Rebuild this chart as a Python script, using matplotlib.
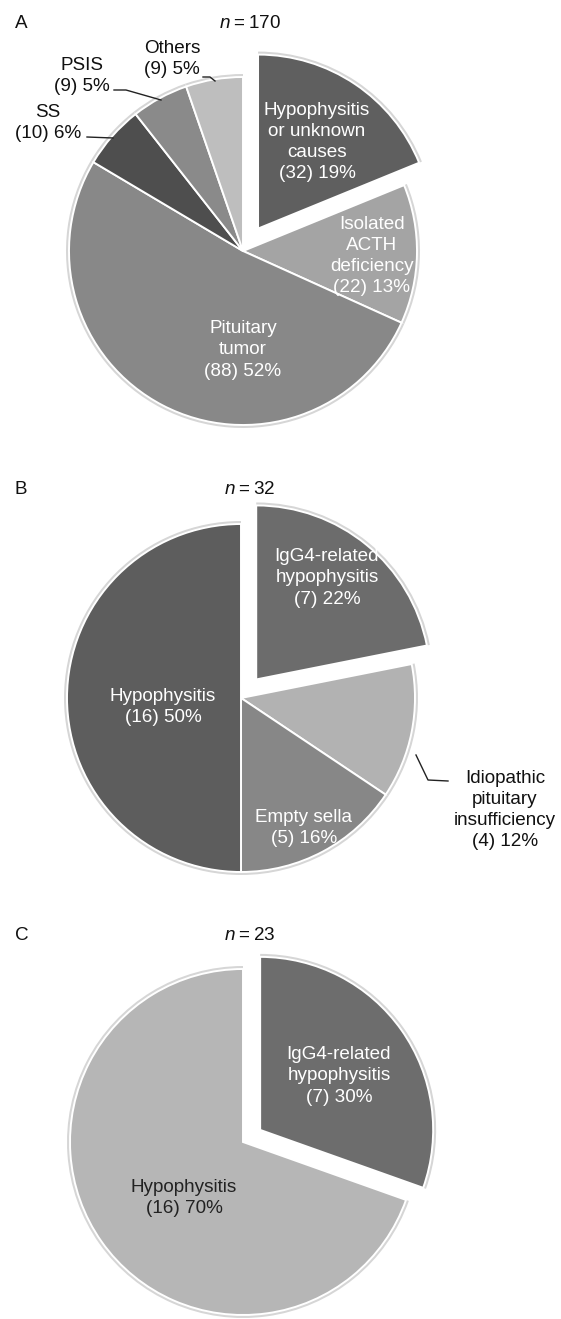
import matplotlib
matplotlib.use("Agg")
import matplotlib.pyplot as plt

plt.rcParams['font.family'] = ['Liberation Sans', 'DejaVu Sans']
plt.rcParams['mathtext.fontset'] = 'custom'
plt.rcParams['mathtext.rm'] = 'Liberation Sans'
plt.rcParams['mathtext.it'] = 'Liberation Sans:italic'

# ---------------- data ----------------
a_labels = ["Hypophysitis\nor unknown\ncauses", "Isolated\nACTH\ndeficiency",
            "Pituitary\ntumor", "SS", "PSIS", "Others"]
a_counts = [32, 22, 88, 10, 9, 9]
a_pcts = [19, 13, 52, 6, 5, 5]
a_n = 170

b_labels = ["IgG4-related\nhypophysitis", "Idiopathic\npituitary\ninsufficiency",
            "Empty sella", "Hypophysitis"]
b_counts = [7, 4, 5, 16]
b_pcts = [22, 12, 16, 50]
b_n = 32

c_labels = ["IgG4-related\nhypophysitis", "Hypophysitis"]
c_counts = [7, 16]
c_pcts = [30, 70]
c_n = 23

# ---------------- styling / layout ----------------
W, H = 561, 1319
a_colors = ["#5f5f5f", "#a4a4a4", "#888888", "#4e4e4e", "#8a8a8a", "#bebebe"]
b_colors = ["#6c6c6c", "#b2b2b2", "#878787", "#5d5d5d"]
c_colors = ["#6d6d6d", "#b6b6b6"]

fig = plt.figure(figsize=(W / 100, H / 100), dpi=100)
fig.patch.set_facecolor("white")


def draw_pie(cx, cy, r, counts, colors, explode):
    ax = fig.add_axes([0, 0, 1, 1])
    ax.set_facecolor("none")
    # light shadow ring
    ax.pie(counts, colors=["#d6d6d6"] * len(counts), radius=1.0 + 3.0 / r,
           startangle=90, counterclock=False, explode=explode,
           wedgeprops=dict(linewidth=0))
    ax.pie(counts, colors=colors, radius=1.0, startangle=90, counterclock=False,
           explode=explode, wedgeprops=dict(edgecolor="white", linewidth=1.4))
    ax.set_xlim(-cx / r, (W - cx) / r)
    ax.set_ylim(-(H - cy) / r, cy / r)
    ax.set_aspect("auto")
    ax.axis("off")
    return ax


draw_pie(243, 251, 174, a_counts, a_colors, [27 / 174, 0, 0, 0, 0, 0])
draw_pie(241, 698, 174, b_counts, b_colors, [24 / 174, 0, 0, 0])
draw_pie(243, 1142, 173, c_counts, c_colors, [21 / 173, 0])

# overlay axes in image pixel coordinates for texts and leader lines
ov = fig.add_axes([0, 0, 1, 1])
ov.set_xlim(0, W)
ov.set_ylim(H, 0)
ov.axis("off")
ov.set_facecolor("none")

FS = 13.6
LS = 1.33


def lab(x, y, name, cnt, pct, color="white"):
    ov.text(x, y, f"{name}\n({cnt}) {pct}%", ha="center", va="center",
            fontsize=FS, color=color, linespacing=LS)


# panel headers
for letter, n, y in [("A", a_n, 23), ("B", b_n, 490), ("C", c_n, 936)]:
    ov.text(15, y, letter, ha="left", va="center", fontsize=FS, color="#111111")
    ov.text(250, y, r"$n$" + "\u2009=\u2009" + str(n), ha="center", va="center",
            fontsize=FS, color="#111111")

# panel A labels
a_pos = [(317, 142), (372, 256), (243, 350), (48, 123), (82, 76), (172, 59)]
a_tcol = ["white", "white", "white", "#111111", "#111111", "#111111"]
for (x, y), nm, c, p, tc in zip(a_pos, a_labels, a_counts, a_pcts, a_tcol):
    lab(x, y, nm, c, p, tc)
ov.plot([87, 113], [137, 138], color="#222222", lw=1.0)
ov.plot([114, 126, 161], [90, 90, 100], color="#222222", lw=1.0)
ov.plot([203, 210, 215], [77, 77, 81], color="#222222", lw=1.0)

# panel B labels
b_pos = [(327, 578), (505, 810), (304, 828), (163, 707)]
b_tcol = ["white", "#111111", "white", "white"]
for (x, y), nm, c, p, tc in zip(b_pos, b_labels, b_counts, b_pcts, b_tcol):
    lab(x, y, nm, c, p, tc)
ov.plot([416, 428, 448], [755, 780, 781], color="#222222", lw=1.0)

# panel C labels
c_pos = [(339, 1076), (184, 1198)]
c_tcol = ["white", "#222222"]
for (x, y), nm, c, p, tc in zip(c_pos, c_labels, c_counts, c_pcts, c_tcol):
    lab(x, y, nm, c, p, tc)

fig.savefig("out.png", dpi=100, facecolor="white")
